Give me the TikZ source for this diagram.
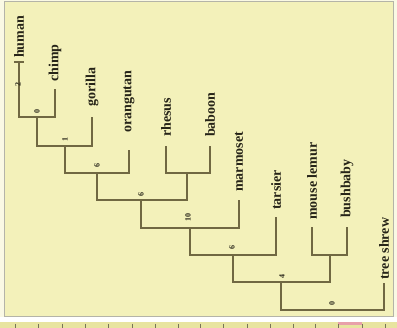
\documentclass[tikz,border=0pt]{standalone}
\usepackage{fontspec}
\setmainfont{Liberation Serif}
\definecolor{bgc}{RGB}{243,241,186}
\definecolor{outc}{RGB}{250,249,228}
\definecolor{framec}{RGB}{180,180,168}
\definecolor{linec}{RGB}{112,104,66}
\definecolor{txtc}{RGB}{38,36,24}
\definecolor{rulerc}{RGB}{232,228,160}
\definecolor{tickc}{RGB}{120,116,90}
\definecolor{pinkc}{RGB}{232,160,170}
\tikzset{
  branch/.style={draw=linec, line width=1.3pt, line cap=rect},
  leaf/.style={rotate=90, anchor=west, inner sep=0pt, text=txtc,
    font=\fontsize{14}{14}\selectfont\bfseries},
  blen/.style={rotate=90, inner sep=0pt, text=txtc,
    font=\fontsize{8}{8}\selectfont\bfseries},
}
\begin{document}
\begin{tikzpicture}[x=1pt,y=-1pt]
\useasboundingbox (0,0) rectangle (397,328);
% background
\fill[white] (0,0) rectangle (397,328);
\fill[outc] (0,0) rectangle (397,317);
\fill[bgc, draw=framec, line width=1pt] (4.5,1.5) rectangle (393.5,316.5);
\fill[rulerc] (0,322.5) rectangle (397,328);
\fill[pinkc] (338,322.5) rectangle (362,325.5);
\foreach \t in {15,38,62,85,108,132,155,178,200,223,247,270,293,315,338,362,385}
  \draw[tickc, line width=0.8pt] (\t,324) -- (\t,328);

% leaf tips
\coordinate (human) at (19,62);
\coordinate (chimp) at (55,90);
\coordinate (gorilla) at (92,118);
\coordinate (orangutan) at (129,151);
\coordinate (rhesus) at (166,147);
\coordinate (baboon) at (210,147);
\coordinate (marmoset) at (239,201);
\coordinate (tarsier) at (276,218);
\coordinate (mlemur) at (312,228);
\coordinate (bushbaby) at (347,228);
\coordinate (tshrew) at (384,284);

% leaf labels
\node[leaf] (thuman) at (19,58) {human};
\node[leaf] (tchimp) at (55,82) {chimp};
\node[leaf] (tgorilla) at (92,107) {gorilla};
\node[leaf] (torangutan) at (129,133) {orangutan};
\node[leaf] (trhesus) at (166,137) {rhesus};
\node[leaf] (tbaboon) at (210,137) {baboon};
\node[leaf] (tmarmoset) at (239,192) {marmoset};
\node[leaf] (ttarsier) at (276,210) {tarsier};
\node[leaf] (tmlemur) at (312,220) {mouse lemur};
\node[leaf] (tbushbaby) at (347,218) {bushbaby};
\node[leaf] (ttshrew) at (384,280) {tree shrew};

% internal nodes
\coordinate (n1) at (37,117);
\coordinate (n2) at (65,146);
\coordinate (n3) at (97,173);
\coordinate (n4) at (187,173);
\coordinate (n5) at (141,200);
\coordinate (n6) at (190,228);
\coordinate (n7) at (233,255);
\coordinate (n8) at (330,255);
\coordinate (n9) at (281,282);
\coordinate (n10) at (332,310);

% branches
\draw[branch] ([xshift=-4pt]human) -- ([xshift=4pt]human);
\draw[branch] (human) |- (n1) -| (chimp);
\draw[branch] (n1) |- (n2) -| (gorilla);
\draw[branch] (n2) |- (n3) -| (orangutan);
\draw[branch] (rhesus) |- (n4) -| (baboon);
\draw[branch] (n3) |- (n5) -| (n4);
\draw[branch] (n5) |- (n6) -| (marmoset);
\draw[branch] (n6) |- (n7) -| (tarsier);
\draw[branch] (mlemur) |- (n8) -| (bushbaby);
\draw[branch] (n7) |- (n9) -| (n8);
\draw[branch] (n9) |- (n10) -| (tshrew);

% branch length labels
\node[blen] (b1) at (18,85) {2};
\node[blen] (b2) at (37,112) {0};
\node[blen] (b3) at (65,140) {1};
\node[blen] (b4) at (97,166) {6};
\node[blen] (b5) at (141,195) {6};
\node[blen] (b6) at (188,218) {10};
\node[blen] (b7) at (232,248) {6};
\node[blen] (b8) at (282,277) {4};
\node[blen] (b9) at (332,304) {0};
\end{tikzpicture}
\end{document}
